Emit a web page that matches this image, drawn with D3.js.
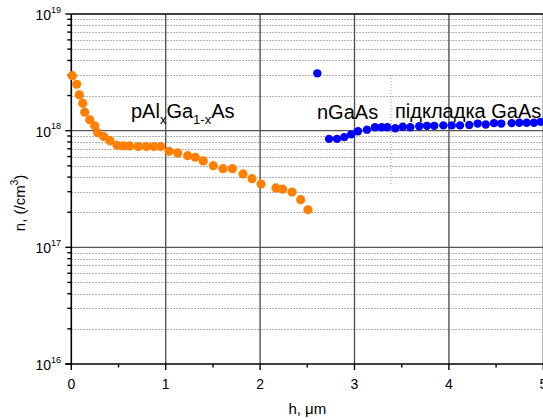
<!DOCTYPE html>
<html>
<head>
<meta charset="utf-8">
<script src="https://cdn.jsdelivr.net/npm/d3@7"></script>
<style>
  body { margin: 0; background: #fff; }
  text { font-family: Arial, "Liberation Sans", sans-serif; fill: #000; }
</style>
</head>
<body>
<div id="chart"></div>
<script>
// Chart size and plot box.
const WIDTH = 543;
const HEIGHT = 419;
const M = { left: 71.3, right: 543.3, top: 14, bottom: 364 };

// p-AlGaAs layer: depth (um) and concentration (/cm3).
const algaasH = [0.011, 0.057, 0.085, 0.121, 0.142, 0.195, 0.248, 0.280, 0.343, 0.410,
  0.484, 0.548, 0.619, 0.710, 0.794, 0.873, 0.947, 1.035, 1.127, 1.233,
  1.314, 1.398, 1.504, 1.607, 1.706, 1.819, 1.914, 2.010, 2.168, 2.239,
  2.338, 2.430, 2.507];
const algaasN = [2.96e18, 2.50e18, 2.03e18, 1.72e18, 1.44e18, 1.24e18, 1.10e18, 9.6e17, 8.9e17, 8.2e17,
  7.5e17, 7.4e17, 7.4e17, 7.3e17, 7.3e17, 7.3e17, 7.3e17, 6.65e17, 6.44e17, 6.11e17,
  5.92e17, 5.50e17, 5.01e17, 4.72e17, 4.72e17, 4.26e17, 3.88e17, 3.49e17, 3.23e17, 3.15e17,
  2.98e17, 2.56e17, 2.10e17];

// n-GaAs layer and substrate.
const gaasH = [2.606, 2.730, 2.815, 2.892, 2.966, 3.037, 3.132, 3.217, 3.288, 3.347,
  3.432, 3.511, 3.591, 3.686, 3.768, 3.845, 3.941, 4.030, 4.118, 4.216,
  4.305, 4.390, 4.478, 4.555, 4.665, 4.746, 4.824, 4.901, 4.972];
const gaasN = [3.10e18, 8.5e17, 8.5e17, 8.8e17, 9.3e17, 9.9e17, 1.02e18, 1.07e18, 1.07e18, 1.07e18,
  1.05e18, 1.08e18, 1.07e18, 1.09e18, 1.10e18, 1.10e18, 1.11e18, 1.11e18, 1.11e18, 1.12e18,
  1.15e18, 1.13e18, 1.16e18, 1.15e18, 1.16e18, 1.17e18, 1.17e18, 1.17e18, 1.19e18];

// Layer boundary (dotted red marker).
const boundaryH = 3.387;
const boundaryN = [3.0e18, 3.4e17];

// Axes.
const xTicks = [0, 1, 2, 3, 4, 5];
const xMinorTicks = [0.5, 1.5, 2.5, 3.5, 4.5];
const yDecades = [16, 17, 18, 19];
const xLabel = "h, \u03bcm";
const yLabel = "n, (/cm";

const COLORS = { algaas: "#ff8000", gaas: "#0000ff", boundary: "#ff7777" };

let svg = d3
  .select("#chart")
  .append("svg")
  .attr("width", WIDTH)
  .attr("height", HEIGHT);

let x = d3.scaleLinear().domain([0, 5]).range([M.left, M.right]);
let y = d3.scaleLog().domain([1e16, 1e19]).range([M.bottom, M.top]);

// Minor values 2..9 x 10^n inside the domain.
let minorVals = [];
yDecades.slice(0, -1).forEach((e) => {
  for (let k = 2; k <= 9; k++) minorVals.push(k * Math.pow(10, e));
});

// Dotted minor grid.
svg.append("g")
  .selectAll("line")
  .data(minorVals)
  .enter()
  .append("line")
  .attr("x1", M.left)
  .attr("x2", WIDTH)
  .attr("y1", (d) => Math.round(y(d)) + 0.5)
  .attr("y2", (d) => Math.round(y(d)) + 0.5)
  .attr("stroke", "#999")
  .attr("stroke-width", 1)
  .attr("stroke-dasharray", "1.5,1.5");

// Major grid.
svg.append("g")
  .selectAll("line")
  .data(xTicks.slice(1))
  .enter()
  .append("line")
  .attr("x1", (d) => x(d))
  .attr("x2", (d) => x(d))
  .attr("y1", M.top)
  .attr("y2", M.bottom)
  .attr("stroke", "#555")
  .attr("stroke-width", 1.4);

svg.append("g")
  .selectAll("line")
  .data([1e17, 1e18])
  .enter()
  .append("line")
  .attr("x1", M.left)
  .attr("x2", WIDTH)
  .attr("y1", (d) => y(d))
  .attr("y2", (d) => y(d))
  .attr("stroke", "#555")
  .attr("stroke-width", 1.4);

// Boundary marker.
svg.append("line")
  .attr("x1", x(boundaryH))
  .attr("x2", x(boundaryH))
  .attr("y1", y(boundaryN[0]))
  .attr("y2", y(boundaryN[1]))
  .attr("stroke", COLORS.boundary)
  .attr("stroke-width", 1)
  .attr("stroke-dasharray", "1,2");

// Axis frame.
svg.append("line")
  .attr("x1", M.left).attr("x2", M.left)
  .attr("y1", M.top).attr("y2", M.bottom)
  .attr("stroke", "#000").attr("stroke-width", 1.6);
svg.append("line")
  .attr("x1", M.left).attr("x2", WIDTH)
  .attr("y1", M.top).attr("y2", M.top)
  .attr("stroke", "#000").attr("stroke-width", 1.6);
svg.append("line")
  .attr("x1", M.left - 6).attr("x2", WIDTH)
  .attr("y1", M.bottom).attr("y2", M.bottom)
  .attr("stroke", "#000").attr("stroke-width", 1.6);

// Bottom ticks and labels.
let xAxis = svg.append("g");
xAxis.selectAll(".major")
  .data(xTicks)
  .enter()
  .append("line")
  .attr("x1", (d) => x(d)).attr("x2", (d) => x(d))
  .attr("y1", M.bottom).attr("y2", M.bottom + 6)
  .attr("stroke", "#000").attr("stroke-width", 1.4);
xAxis.selectAll(".minor")
  .data(xMinorTicks)
  .enter()
  .append("line")
  .attr("x1", (d) => x(d)).attr("x2", (d) => x(d))
  .attr("y1", M.bottom).attr("y2", M.bottom + 3.5)
  .attr("stroke", "#000").attr("stroke-width", 1.4);
xAxis.selectAll("text")
  .data(xTicks)
  .enter()
  .append("text")
  .attr("x", (d) => x(d))
  .attr("y", M.bottom + 25)
  .attr("text-anchor", "middle")
  .style("font-size", "14px")
  .text((d) => d);

// Left ticks and labels.
let yAxis = svg.append("g");
yAxis.selectAll(".minor")
  .data(minorVals)
  .enter()
  .append("line")
  .attr("x1", M.left - 4).attr("x2", M.left)
  .attr("y1", (d) => y(d)).attr("y2", (d) => y(d))
  .attr("stroke", "#000").attr("stroke-width", 1.4);
yAxis.selectAll(".major")
  .data(yDecades)
  .enter()
  .append("line")
  .attr("x1", M.left - 6).attr("x2", M.left)
  .attr("y1", (d) => y(Math.pow(10, d))).attr("y2", (d) => y(Math.pow(10, d)))
  .attr("stroke", "#000").attr("stroke-width", 1.4);

let yLabels = yAxis.selectAll("text")
  .data(yDecades)
  .enter()
  .append("text")
  .attr("x", 61)
  .attr("y", (d) => y(Math.pow(10, d)) + 6)
  .attr("text-anchor", "end")
  .style("font-size", "14px");
yLabels.append("tspan").text("10");
yLabels.append("tspan")
  .attr("dy", -7.5)
  .style("font-size", "9px")
  .text((d) => d);

// Axis titles.
svg.append("text")
  .attr("x", (M.left + M.right) / 2)
  .attr("y", 414)
  .attr("text-anchor", "middle")
  .style("font-size", "15px")
  .text(xLabel);

let yTitle = svg.append("text")
  .attr("transform", "translate(25,203) rotate(-90)")
  .attr("text-anchor", "middle")
  .style("font-size", "15px");
yTitle.append("tspan").text(yLabel);
yTitle.append("tspan").attr("dy", -7).style("font-size", "10px").text("3");
yTitle.append("tspan").attr("dy", 7).text(")");

// Data points.
svg.append("g")
  .selectAll("circle")
  .data(algaasH.map((h, i) => [h, algaasN[i]]))
  .enter()
  .append("circle")
  .attr("cx", (d) => x(d[0]))
  .attr("cy", (d) => y(d[1]))
  .attr("r", 4.6)
  .attr("fill", COLORS.algaas);

svg.append("g")
  .selectAll("circle")
  .data(gaasH.map((h, i) => [h, gaasN[i]]))
  .enter()
  .append("circle")
  .attr("cx", (d) => x(d[0]))
  .attr("cy", (d) => y(d[1]))
  .attr("r", 4.2)
  .attr("fill", COLORS.gaas);

// Layer annotations.
let t1 = svg.append("text")
  .attr("x", 131)
  .attr("y", 118)
  .style("font-size", "20px");
t1.append("tspan").text("pAl");
t1.append("tspan").attr("dy", 6).style("font-size", "13px").text("x");
t1.append("tspan").attr("dy", -6).text("Ga");
t1.append("tspan").attr("dy", 6).style("font-size", "13px").text("1-x");
t1.append("tspan").attr("dy", -6).text("As");

svg.append("text")
  .attr("x", 317)
  .attr("y", 119)
  .style("font-size", "20px")
  .text("nGaAs");

svg.append("text")
  .attr("x", 395)
  .attr("y", 118)
  .style("font-size", "20px")
  .text("підкладка GaAs");
</script>
</body>
</html>
